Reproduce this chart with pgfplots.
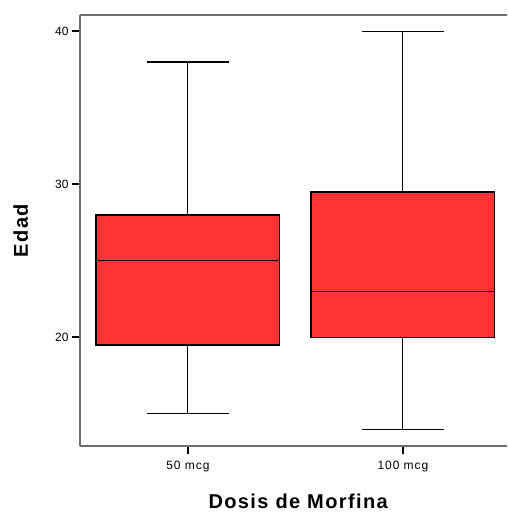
\documentclass[border=0pt]{standalone}
\usepackage{pgfplots}
\pgfplotsset{compat=1.18}
\usepackage{fontspec}
\setmainfont{Liberation Sans}
\newfontfamily\labfont[LetterSpace=7]{Liberation Sans}
\newfontfamily\tickfont[LetterSpace=8]{Liberation Sans}
\definecolor{boxred}{RGB}{255,51,51}
\definecolor{framegray}{RGB}{110,110,110}
\begin{document}
\begin{tikzpicture}
\useasboundingbox (-80pt,-66pt) rectangle (427pt,446pt);
\begin{axis}[
  at={(0,0)}, anchor=south west,
  scale only axis, width=427pt, height=431pt,
  xmin=0.498, xmax=2.484, ymin=12.9, ymax=41.07,
  axis x line=box, axis y line=left,
  axis line style={-, draw=framegray, line width=1.3pt},
  xtick pos=bottom, ytick pos=left,
  tick align=outside,
  major tick length=8pt,
  tick style={black, line width=2pt},
  xtick={1,2}, xticklabels={50 mcg, 100 mcg},
  ytick={20,30,40},
  /pgf/number format/assume math mode=true,
  yticklabel style={font=\fontsize{12}{14}\selectfont},
  xticklabel style={font=\tickfont\fontsize{12}{14}\selectfont, yshift=-4pt},
  xlabel={Dosis de Morfina},
  ylabel={Edad},
  xlabel style={at={(axis description cs:0.511,0)}, anchor=center, yshift=-55.7pt, font=\labfont\bfseries\fontsize{20}{24}\selectfont},
  ylabel style={at={(axis description cs:-0.139,0.5)}, anchor=center, font=\labfont\bfseries\fontsize{20}{24}\selectfont},
  clip=false,
]
% Box 1: 50 mcg (whiskers 15-38, box 19.5-28, median 25)
\addplot[draw=black, line width=1.1pt] coordinates {(1,15) (1,19.5)};
\addplot[draw=black, line width=1.1pt] coordinates {(1,28) (1,38)};
\addplot[draw=black, line width=1.1pt] coordinates {(0.81,15) (1.19,15)};
\addplot[draw=black, line width=1.1pt] coordinates {(0.81,38) (1.19,38)};
\addplot[draw=black, fill=boxred, line width=1.1pt] coordinates {(0.5725,19.5) (1.4275,19.5) (1.4275,28) (0.5725,28)} -- cycle;
\addplot[draw=black, line width=1.1pt] coordinates {(0.5725,25) (1.4275,25)};
% Box 2: 100 mcg (whiskers 14-40, box 20-29.5, median 23)
\addplot[draw=black, line width=1.1pt] coordinates {(2,14) (2,20)};
\addplot[draw=black, line width=1.1pt] coordinates {(2,29.5) (2,40)};
\addplot[draw=black, line width=1.1pt] coordinates {(1.81,14) (2.19,14)};
\addplot[draw=black, line width=1.1pt] coordinates {(1.81,40) (2.19,40)};
\addplot[draw=black, fill=boxred, line width=1.1pt] coordinates {(1.5725,20) (2.4275,20) (2.4275,29.5) (1.5725,29.5)} -- cycle;
\addplot[draw=black, line width=1.1pt] coordinates {(1.5725,23) (2.4275,23)};
\end{axis}
\end{tikzpicture}
\end{document}
